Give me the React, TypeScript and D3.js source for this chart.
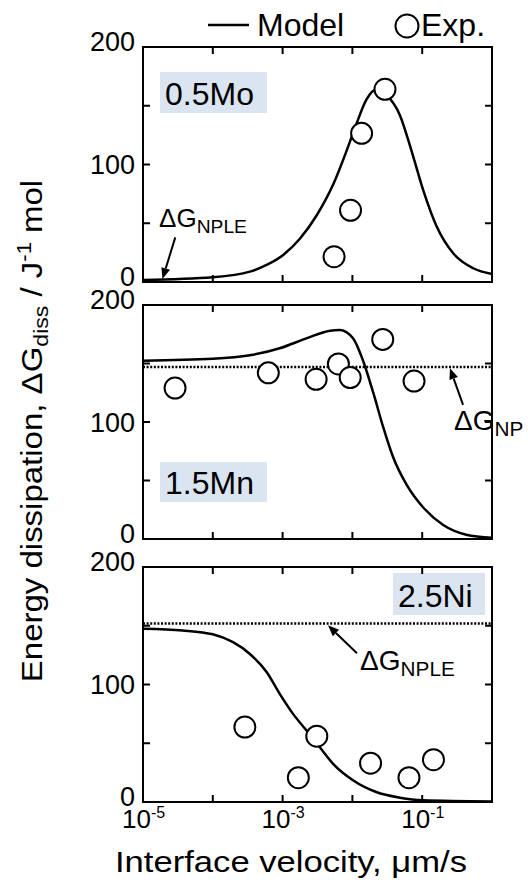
import React from "react";
import * as d3 from "d3";

const W = 528;
const H = 884;
const FONT = "'Liberation Sans', Arial, Helvetica, sans-serif";

// shared axes
const xTickValues = [1e-5, 1e-4, 1e-3, 1e-2, 1e-1, 1];
const xLabelExps = [-5, -3, -1];
const yLabelValues = [0, 100, 200];
const yTickValues = [0, 50, 100, 150, 200];

// 0.5Mo
const moModelV = [1e-5, 1e-4, 3.4e-4, 5.9e-4, 1.02e-3, 1.78e-3, 3.1e-3, 5.4e-3, 8.3e-3, 0.0115, 0.0158, 0.0224, 0.0309, 0.0479, 0.0708, 0.105, 0.162, 0.282, 0.537, 1];
const moModelG = [1.7, 4, 8.8, 14.5, 23, 37, 57, 84, 112, 135, 155, 164, 159, 142, 111, 77, 47, 24, 11.7, 6.8];
const moExpV = [0.0293, 0.01355, 0.0094, 0.00546];
const moExpG = [164, 126.5, 61, 21.5];

// 1.5Mn
const mnModelV = [1e-5, 1e-4, 3.4e-4, 9.1e-4, 2.19e-3, 4.8e-3, 6.6e-3, 0.0102, 0.0141, 0.02, 0.0275, 0.038, 0.0603, 0.105, 0.2, 0.427, 1];
const mnModelG = [152.4, 154, 157, 163, 171.5, 178, 178.6, 171.5, 153, 124.6, 96, 70.5, 46, 26.5, 12, 3.7, 1];
const mnExpV = [2.88e-5, 6.24e-4, 3.02e-3, 6.3e-3, 9.3e-3, 0.0272, 0.0764];
const mnExpG = [129, 142, 136.5, 149.6, 138, 170.6, 135];
const mnNP = 147;

// 2.5Ni
const niModelV = [1e-5, 3.7e-5, 1e-4, 1.95e-4, 3.4e-4, 5.9e-4, 9.1e-4, 1.41e-3, 2.19e-3, 3.39e-3, 5.25e-3, 0.0102, 0.0219, 0.0479, 0.102, 1];
const niModelG = [147.5, 146, 142.7, 136, 126, 110.6, 92, 75, 61, 46.8, 32.7, 18.5, 8.5, 3.7, 1.5, 0.5];
const niExpV = [2.88e-4, 1.68e-3, 3.09e-3, 0.0182, 0.0646, 0.145];
const niExpG = [63.8, 20.7, 56, 33, 20.7, 36];
const niNPLE = 152;

const x = d3.scaleLog().domain([1e-5, 1]).range([143, 492]);

type Note = {
  main: string;
  sub: string;
  size: number;
  text: [number, number];
  tail: [number, number];
  tip: [number, number];
};

type PanelCfg = {
  top: number;
  bottom: number;
  name: string;
  box: [number, number, number, number];
  modelV: number[];
  modelG: number[];
  expV: number[];
  expG: number[];
  dotted?: number;
  note: Note;
  xLabels?: boolean;
};

const panels: PanelCfg[] = [
  {
    top: 47, bottom: 282, name: "0.5Mo", box: [160, 72, 107, 41],
    modelV: moModelV, modelG: moModelG, expV: moExpV, expG: moExpG,
    note: { main: "ΔG", sub: "NPLE", size: 26, text: [1.7e-5, 47], tail: [2.9e-5, 38], tip: [1.9e-5, 2.5] },
  },
  {
    top: 305, bottom: 539, name: "1.5Mn", box: [160, 462, 107, 40],
    modelV: mnModelV, modelG: mnModelG, expV: mnExpV, expG: mnExpG, dotted: mnNP,
    note: { main: "ΔG", sub: "NP", size: 28, text: [0.286, 93], tail: [0.385, 114.6], tip: [0.25, 146] },
  },
  {
    top: 567, bottom: 802, name: "2.5Ni", box: [393, 573, 92, 42],
    modelV: niModelV, modelG: niModelG, expV: niExpV, expG: niExpG, dotted: niNPLE,
    note: { main: "ΔG", sub: "NPLE", size: 28, text: [0.0129, 112], tail: [0.01164, 126.6], tip: [0.00447, 150.4] },
    xLabels: true,
  },
];

function Arrow({ x1, y1, x2, y2 }: { x1: number; y1: number; x2: number; y2: number }) {
  const a = Math.atan2(y2 - y1, x2 - x1);
  const len = 11;
  const hw = 4.5;
  const bx = x2 - len * Math.cos(a);
  const by = y2 - len * Math.sin(a);
  const p1 = [bx + hw * Math.sin(a), by - hw * Math.cos(a)];
  const p2 = [bx - hw * Math.sin(a), by + hw * Math.cos(a)];
  return (
    <g>
      <line x1={x1} y1={y1} x2={bx} y2={by} stroke="#000" strokeWidth={2} />
      <polygon points={`${x2},${y2} ${p1[0]},${p1[1]} ${p2[0]},${p2[1]}`} fill="#000" />
    </g>
  );
}

function Panel({ cfg }: { cfg: PanelCfg }) {
  const y = d3.scaleLinear().domain([0, 200]).range([cfg.bottom, cfg.top]);
  const [x0, x1] = x.range();
  const line = d3
    .line<number>()
    .x((_, i) => x(cfg.modelV[i]))
    .y((d) => y(d))
    .curve(d3.curveMonotoneX);
  const n = cfg.note;
  return (
    <g>
      {cfg.dotted !== undefined && (
        <line x1={x0} x2={x1} y1={y(cfg.dotted)} y2={y(cfg.dotted)} stroke="#000" strokeWidth={2.5} strokeDasharray="2 1.6" />
      )}
      <rect x={cfg.box[0]} y={cfg.box[1]} width={cfg.box[2]} height={cfg.box[3]} fill="#dbe5f1" />
      <text x={cfg.box[0] + 5} y={cfg.box[1] + cfg.box[3] - 8} fontSize={32}>{cfg.name}</text>
      <path d={line(cfg.modelG) || ""} fill="none" stroke="#000" strokeWidth={2.5} />
      {cfg.expV.map((v, i) => (
        <circle key={i} cx={x(v)} cy={y(cfg.expG[i])} r={10.5} fill="#fff" stroke="#000" strokeWidth={2} />
      ))}
      {/* frame and inward ticks */}
      <rect x={x0} y={cfg.top} width={x1 - x0} height={cfg.bottom - cfg.top} fill="none" stroke="#000" strokeWidth={2} />
      {xTickValues.map((t) => (
        <g key={t}>
          <line x1={x(t)} x2={x(t)} y1={cfg.bottom} y2={cfg.bottom - 7} stroke="#000" strokeWidth={2} />
          <line x1={x(t)} x2={x(t)} y1={cfg.top} y2={cfg.top + 7} stroke="#000" strokeWidth={2} />
        </g>
      ))}
      {yTickValues.map((t) => (
        <g key={t}>
          <line x1={x0} x2={x0 + 7} y1={y(t)} y2={y(t)} stroke="#000" strokeWidth={2} />
          <line x1={x1} x2={x1 - 7} y1={y(t)} y2={y(t)} stroke="#000" strokeWidth={2} />
        </g>
      ))}
      {yLabelValues.map((t) => (
        <text key={t} x={135} y={y(t) + (t === 100 ? 9.5 : 3.5)} fontSize={27} textAnchor="end">{t}</text>
      ))}
      {cfg.xLabels &&
        xLabelExps.map((e) => (
          <text key={e} x={x(Math.pow(10, e)) - 21} y={cfg.bottom + 26} fontSize={26}>
            10<tspan fontSize={16} dy={-10}>{e === -5 ? "-5" : e === -3 ? "-3" : "-1"}</tspan>
          </text>
        ))}
      <text x={x(n.text[0])} y={y(n.text[1])} fontSize={n.size}>
        {n.main}
        <tspan fontSize={n.size * 0.74} dy={6}>{n.sub}</tspan>
      </text>
      <Arrow x1={x(n.tail[0])} y1={y(n.tail[1])} x2={x(n.tip[0])} y2={y(n.tip[1])} />
    </g>
  );
}

export default function App() {
  return (
    <svg width={W} height={H} style={{ display: "block", position: "absolute", left: 0, top: 0, background: "#fff" }} fontFamily={FONT}>
      {/* legend */}
      <line x1={208} x2={249} y1={25} y2={25} stroke="#000" strokeWidth={2.5} />
      <text x={257} y={36} fontSize={32}>Model</text>
      <circle cx={407} cy={26} r={11.5} fill="#fff" stroke="#000" strokeWidth={2} />
      <text x={421} y={36} fontSize={32}>Exp.</text>

      {panels.map((p) => (
        <Panel key={p.name} cfg={p} />
      ))}

      <text x={291} y={872} fontSize={30} textAnchor="middle" textLength={352} lengthAdjust="spacingAndGlyphs">
        Interface velocity, μm/s
      </text>
      <text transform="translate(42,431) rotate(-90) scale(1.1,1)" fontSize={30} textAnchor="middle">
        Energy dissipation, ΔG<tspan fontSize={21} dy={6}>diss</tspan>
        <tspan dy={-6}> / J</tspan>
        <tspan fontSize={20} dy={-11}>-1</tspan>
        <tspan dy={11}> mol</tspan>
      </text>
    </svg>
  );
}
